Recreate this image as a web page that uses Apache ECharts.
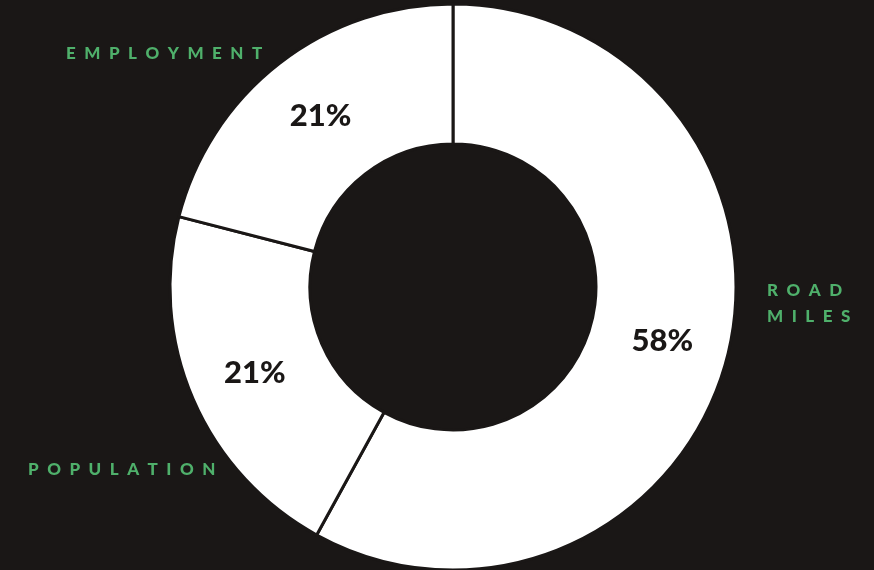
<!DOCTYPE html>
<html><head><meta charset="utf-8">
<script src="https://cdn.jsdelivr.net/npm/echarts@6/dist/echarts.min.js"></script>
<style>html,body{margin:0;padding:0;background:#1a1716;}#c{width:874px;height:570px;}</style>
</head><body><div id="c"></div>
<script>
const categories = ['Road Miles', 'Population', 'Employment'];
const values = [58, 21, 21];
const percentLabels = ['58%', '21%', '21%'];

const BG = '#1a1716';
const GREEN = '#4fb06b';
const sp = s => s.toUpperCase().split('').join('\u2002');

const chart = echarts.init(document.getElementById('c'), null, {renderer: 'canvas'});
const labelFont = {fontFamily: 'Lato', fontWeight: 900, fontSize: 17, fill: GREEN};
chart.setOption({
  backgroundColor: BG,
  animation: false,
  series: [{
    type: 'pie',
    center: [453, 287],
    radius: [143, 283],
    startAngle: 90,
    clockwise: true,
    silent: true,
    itemStyle: {color: '#ffffff', borderColor: BG, borderWidth: 3},
    label: {
      show: true, position: 'inside',
      formatter: p => percentLabels[p.dataIndex],
      color: BG, fontFamily: 'Lato', fontWeight: 900, fontSize: 31,
      padding: [4, 0, 0, 0]
    },
    labelLine: {show: false},
    data: categories.map((c, i) => ({name: c, value: values[i]}))
  }],
  graphic: [
    {type: 'text', left: 66, top: 45, style: Object.assign({text: sp(categories[2])}, labelFont)},
    {type: 'text', left: 767, top: 278, style: Object.assign({text: sp('Road') + '\n' + sp('Miles'), lineHeight: 26}, labelFont)},
    {type: 'text', left: 28, top: 461, style: Object.assign({text: sp(categories[1])}, labelFont)}
  ]
});
</script></body></html>
